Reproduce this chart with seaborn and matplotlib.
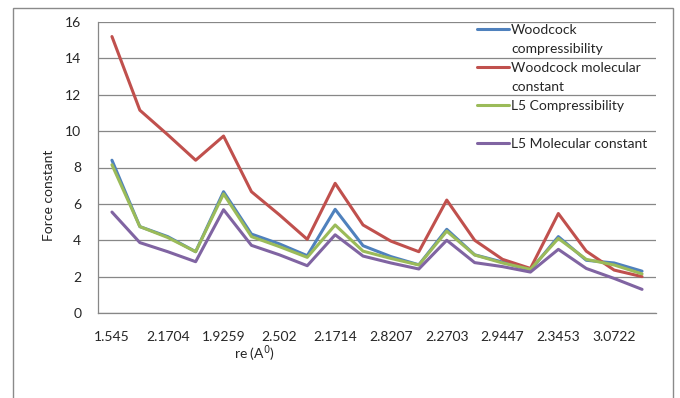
import numpy as np
import pandas as pd
import seaborn as sns
import matplotlib.pyplot as plt
from matplotlib.lines import Line2D
from matplotlib.patches import Rectangle

# 1. Data (20 points, labels shown on every other one)
re_labels = ["1.545", "2.1704", "1.9259", "2.502", "2.1714",
             "2.8207", "2.2703", "2.9447", "2.3453", "3.0722"]
n_points = 20

woodcock_comp = [8.4, 4.75, 4.2, 3.37, 6.67, 4.34, 3.8, 3.15, 5.7, 3.7,
                 3.1, 2.65, 4.6, 3.2, 2.8, 2.35, 4.2, 2.9, 2.75, 2.3]
woodcock_mol = [15.2, 11.15, 9.8, 8.4, 9.73, 6.67, 5.4, 4.05, 7.13, 4.84,
                3.95, 3.37, 6.21, 4.0, 2.95, 2.45, 5.47, 3.4, 2.36, 2.0]
l5_comp = [8.15, 4.75, 4.15, 3.37, 6.55, 4.2, 3.65, 3.06, 4.84, 3.4,
           3.0, 2.64, 4.5, 3.19, 2.75, 2.4, 4.1, 2.95, 2.64, 2.15]
l5_mol = [5.55, 3.87, 3.37, 2.82, 5.68, 3.72, 3.2, 2.6, 4.3, 3.13,
          2.75, 2.42, 4.0, 2.77, 2.55, 2.25, 3.5, 2.45, 1.9, 1.3]

series_names = ["Woodcock compressibility", "Woodcock molecular constant",
                "L5 Compressibility", "L5 Molecular constant"]
colors = {"Woodcock compressibility": "#4F81BD",
          "Woodcock molecular constant": "#C0504D",
          "L5 Compressibility": "#9BBB59",
          "L5 Molecular constant": "#8064A2"}

df = pd.DataFrame({
    "point": np.arange(n_points),
    series_names[0]: woodcock_comp,
    series_names[1]: woodcock_mol,
    series_names[2]: l5_comp,
    series_names[3]: l5_mol,
})
long_df = df.melt(id_vars="point", var_name="series", value_name="force")

# 2. Style
sns.set_style("white")
plt.rcParams['font.family'] = ['Lato', 'DejaVu Sans']
grid_col = "#878787"
text_col = "#262626"
fs = 10

fig = plt.figure(figsize=(6.8, 3.98), dpi=100)
ax = fig.add_axes([98 / 680, 1 - 313 / 398, 558 / 680, 291 / 398])

sns.lineplot(data=long_df, x="point", y="force", hue="series",
             hue_order=series_names, palette=colors, linewidth=2.2,
             legend=False, ax=ax)

ax.set_xlim(-0.5, n_points - 0.5)
ax.set_ylim(0, 16)
ax.set_yticks(range(0, 17, 2))
ax.yaxis.grid(True, color=grid_col, linewidth=0.9)
ax.set_axisbelow(True)

# category labels on every other point, ticks between categories
ax.set_xticks(np.arange(0, n_points, 2))
ax.set_xticklabels(re_labels)
ax.set_xticks(np.arange(-0.5, n_points, 1), minor=True)
ax.tick_params(axis="x", which="major", length=0, pad=13,
               labelsize=fs, labelcolor=text_col)
ax.tick_params(axis="x", which="minor", length=4, width=0.9,
               color=grid_col, direction="out")
ax.tick_params(axis="y", length=4, width=0.9, color=grid_col,
               direction="out", pad=8, labelsize=fs, labelcolor=text_col)

for side in ["top", "right"]:
    ax.spines[side].set_visible(False)
for side in ["left", "bottom"]:
    ax.spines[side].set_color(grid_col)
    ax.spines[side].set_linewidth(0.9)

ax.set_xlabel("re (A$^{0}$)", fontsize=fs, color=text_col)
ax.xaxis.set_label_coords(0.281, -0.105)
ax.set_ylabel("Force constant", fontsize=fs, color=text_col)
ax.yaxis.set_label_coords(-0.077, 0.405)

# 3. Legend, laid out like the Excel one (wrapped labels)
lines = {name: line for name, line in zip(series_names, ax.get_lines())}
blank = Line2D([], [], color="none")
handles = [lines[series_names[0]], blank,
           lines[series_names[1]], blank,
           lines[series_names[2]], blank,
           lines[series_names[3]]]
labels = ["Woodcock", "compressibility",
          "Woodcock molecular", "constant",
          "L5 Compressibility", " ",
          "L5 Molecular constant"]
ax.legend(handles, labels, loc="upper left", bbox_to_anchor=(0.679, 0.993),
          frameon=False, fontsize=fs, handlelength=2.3, handletextpad=0.15,
          labelspacing=0.5, borderpad=0, borderaxespad=0,
          labelcolor=text_col)

# chart area border
fig.add_artist(Rectangle((13 / 680, -0.05), 660 / 680, 1.05 - 8 / 398,
                         transform=fig.transFigure, fill=False,
                         edgecolor="#8a8a8a", linewidth=1))

fig.savefig("out.png", dpi=100, facecolor="white")
